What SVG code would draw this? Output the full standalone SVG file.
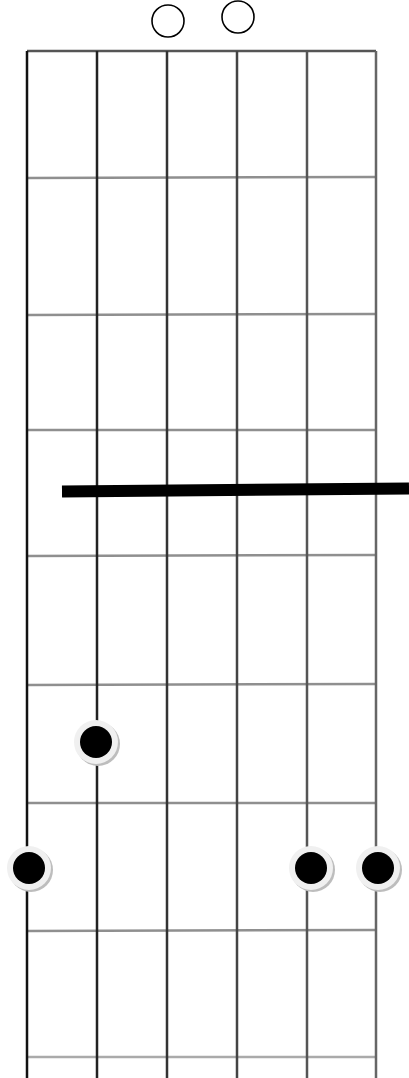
<svg xmlns="http://www.w3.org/2000/svg" width="409" height="1078" viewBox="0 0 409 1078">
<style>
.str{stroke-width:2.5;fill:none}
.fret{stroke:#8f8f8f;stroke-width:2.5;fill:none}
.open{fill:#fff;stroke:#000;stroke-width:1.6}
.ring{fill:#f0f0f0}
.shadow{fill:#bdbdbd}
.dot{fill:#000}
</style>
<rect width="409" height="1078" fill="#fff"/>
<g id="frets">
<line class="fret" x1="27" y1="51" x2="376" y2="51" style="stroke:#555"/>
<line class="fret" x1="27" y1="178" x2="376" y2="177"/>
<line class="fret" x1="27" y1="315" x2="376" y2="314"/>
<line class="fret" x1="27" y1="430" x2="376" y2="430"/>
<line class="fret" x1="27" y1="556" x2="376" y2="555"/>
<line class="fret" x1="27" y1="685" x2="376" y2="684"/>
<line class="fret" x1="27" y1="803" x2="376" y2="803"/>
<line class="fret" x1="27" y1="931" x2="376" y2="930"/>
<line class="fret" x1="27" y1="1057" x2="376" y2="1057" style="stroke:#aaa"/>
</g>
<g id="strings">
<line class="str" x1="27" y1="51" x2="27" y2="1078" stroke="#111"/>
<line class="str" x1="97" y1="51" x2="97" y2="1078" stroke="#222"/>
<line class="str" x1="167" y1="51" x2="167" y2="1078" stroke="#333"/>
<line class="str" x1="237" y1="51" x2="237" y2="1078" stroke="#444"/>
<line class="str" x1="307" y1="51" x2="307" y2="1078" stroke="#555"/>
<line class="str" x1="376" y1="51" x2="376" y2="1078" stroke="#666"/>
</g>
<g id="open-strings">
<circle class="open" cx="168" cy="21" r="16"/>
<circle class="open" cx="238" cy="17" r="16"/>
</g>
<g id="barre">
<line x1="62" y1="491.5" x2="409" y2="488.5" stroke="#000" stroke-width="12"/>
</g>
<g id="dot-1">
<circle class="shadow" cx="98" cy="744" r="22"/>
<circle class="ring" cx="96" cy="742" r="22"/>
<circle class="dot" cx="96" cy="742" r="16"/>
</g>
<g id="dot-2">
<circle class="shadow" cx="31" cy="870" r="22"/>
<circle class="ring" cx="29" cy="868" r="22"/>
<circle class="dot" cx="29" cy="868" r="16"/>
</g>
<g id="dot-3">
<circle class="shadow" cx="313" cy="870" r="22"/>
<circle class="ring" cx="311" cy="868" r="22"/>
<circle class="dot" cx="311" cy="868" r="16"/>
</g>
<g id="dot-4">
<circle class="shadow" cx="380" cy="870" r="22"/>
<circle class="ring" cx="378" cy="868" r="22"/>
<circle class="dot" cx="378" cy="868" r="16"/>
</g>
</svg>
